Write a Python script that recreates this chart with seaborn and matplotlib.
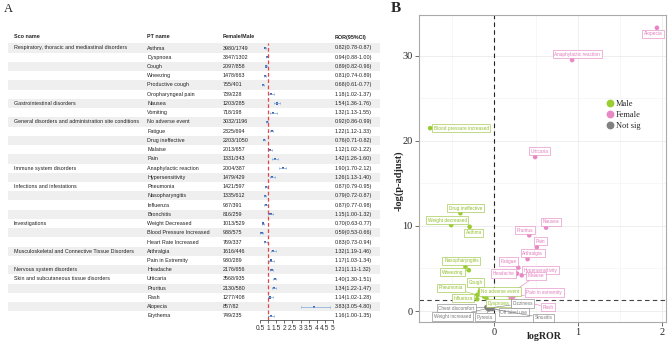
import numpy as np
import pandas as pd
import seaborn as sns
import matplotlib.pyplot as plt
from matplotlib.lines import Line2D

sns.set_theme(style="white")
plt.rcParams['font.family'] = ['Liberation Sans', 'DejaVu Sans']
SERIF = ['Liberation Serif', 'DejaVu Serif']

# ---------------- panel A data ----------------
soc_names = ['Respiratory, thoracic and mediastinal disorders', '', '', '', '', '',
             'Gastrointestinal disorders', '',
             'General disorders and administration site conditions', '', '', '', '',
             'Immune system disorders', '',
             'Infections and infestations', '', '', '',
             'Investigations', '', '',
             'Musculoskeletal and Connective Tissue Disorders', '',
             'Nervous system disorders',
             'Skin and subcutaneous tissue disorders', '', '', '', '']
pt_names = ['Asthma', 'Dyspnoea', 'Cough', 'Wheezing', 'Productive cough', 'Oropharyngeal pain',
            'Nausea', 'Vomiting',
            'No adverse event', 'Fatigue', 'Drug ineffective', 'Malaise', 'Pain',
            'Anaphylactic reaction', 'Hypersensitivity',
            'Pneumonia', 'Nasopharyngitis', 'Influenza', 'Bronchitis',
            'Weight Decreased', 'Blood Pressure Increased', 'Heart Rate Increased',
            'Arthralgia', 'Pain in Extremity',
            'Headache',
            'Urticaria', 'Pruritus', 'Rash', 'Alopecia', 'Erythema']
female_male = ['3980/1749', '3347/1302', '2097/858', '1478/663', '755/401', '739/228',
               '1203/285', '718/198',
               '3032/1196', '2325/694', '2203/1050', '2013/657', '1331/343',
               '2004/387', '1479/429',
               '1421/597', '1335/612', '937/391', '816/259',
               '1013/529', '938/575', '769/337',
               '1616/446', '930/289',
               '2176/656',
               '3568/935', '2130/580', '1277/408', '857/82', '749/235']
ror = [0.82, 0.94, 0.89, 0.81, 0.68, 1.18, 1.54, 1.32, 0.92, 1.22, 0.76, 1.12, 1.42, 1.90, 1.26,
       0.87, 0.79, 0.87, 1.15, 0.70, 0.59, 0.83, 1.32, 1.17, 1.21, 1.40, 1.34, 1.14, 3.83, 1.16]
ror_lo = [0.78, 0.88, 0.82, 0.74, 0.61, 1.02, 1.36, 1.13, 0.86, 1.12, 0.71, 1.02, 1.26, 1.70, 1.13,
          0.79, 0.72, 0.77, 1.00, 0.63, 0.53, 0.73, 1.19, 1.03, 1.11, 1.30, 1.22, 1.02, 3.05, 1.00]
ror_hi = [0.87, 1.00, 0.96, 0.89, 0.77, 1.37, 1.76, 1.55, 0.99, 1.33, 0.82, 1.22, 1.60, 2.12, 1.40,
          0.95, 0.87, 0.98, 1.32, 0.77, 0.66, 0.94, 1.46, 1.34, 1.32, 1.51, 1.47, 1.28, 4.80, 1.35]

# ---------------- panel B data ----------------
vol_terms = ['Alopecia', 'Anaphylactic reaction', 'Urticaria', 'Nausea', 'Pruritus', 'Pain',
             'Arthralgia', 'Fatigue', 'Headache', 'Hypersensitivity', 'Malaise',
             'Pain in extremity', 'Rash',
             'Blood pressure increased', 'Drug ineffective', 'Weight decreased', 'Asthma',
             'Nasopharyngitis', 'Wheezing', 'Cough', 'Pneumonia', 'No adverse event',
             'Influenza', 'Dyspnoea',
             'Chest discomfort', 'Weight increased', 'Pyrexia', 'Dizziness', 'Off label use',
             'Sinusitis']
vol_logror = [1.94, 0.93, 0.49, 0.62, 0.42, 0.51, 0.40, 0.29, 0.275, 0.33, 0.17, 0.23, 0.20,
              -0.76, -0.40, -0.51, -0.29, -0.34, -0.30, -0.17, -0.20, -0.12, -0.20, -0.09,
              -0.09, -0.08, -0.06, -0.03, -0.05, -0.02]
vol_nlogp = [33.3, 29.5, 18.1, 9.8, 8.9, 7.5, 6.1, 5.1, 4.4, 4.2, 1.9, 1.7, 1.5,
             21.5, 11.5, 10.1, 9.9, 5.2, 4.8, 2.3, 1.9, 1.7, 1.4, 1.5,
             0.45, 0.3, 0.2, 0.4, 0.35, 0.25]
vol_group = ['Female'] * 13 + ['Male'] * 11 + ['Not sig'] * 6

# label offsets (pixels, dx right / dy down) mimicking ggrepel placement
lab_off = [(-4, 6), (5, -6), (4, -6), (5, -6), (-4, -5), (4, -6), (5, -6), (-10, -6), (-14, 0),
           (19, -5), (28, -19), (31, -4), (37, 9),
           (31, 0), (5, -5), (-4, -5), (4, 6), (-4, -6), (-16, 2), (-4, -9), (-26, -7), (16, -5),
           (-14, -1), (12, 5),
           (-30, 1), (-35, 8), (-4, 8), (31, -4), (24, 4), (51, 9)]

pal = {'Male': '#9ACD32', 'Female': '#E889C6', 'Not sig': '#808080'}
txt_col = {'Male': '#93C02E', 'Female': '#E27CBD', 'Not sig': '#7a7a7a'}

W, H = 669, 343
fig = plt.figure(figsize=(W / 100, H / 100), dpi=100)

# ---------------- panel A: table + forest ----------------
bg = fig.add_axes([0, 0, 1, 1])
bg.set_xlim(0, W)
bg.set_ylim(H, 0)
bg.axis('off')

row_y0, row_h = 48, 9.24
fs = 3.9
n = len(pt_names)
for i in range(n):
    y = row_y0 + i * row_h
    if i % 2 == 0:
        bg.add_patch(plt.Rectangle((8, y - row_h / 2), 372, row_h, color='#efefef', lw=0, zorder=0))
    bg.text(14, y, soc_names[i], fontsize=fs, va='center', color='#222222')
    bg.text(147, y, pt_names[i], fontsize=fs, va='center', color='#222222')
    bg.text(223, y, female_male[i], fontsize=fs, va='center', color='#222222')
    bg.text(335, y, f'{ror[i]:.2f}({ror_lo[i]:.2f}-{ror_hi[i]:.2f})', fontsize=fs,
            va='center', color='#222222')
hy = 37
for x, t in [(14, 'Sco name'), (147, 'PT name'), (223, 'Female/Male'), (335, 'ROR(95%CI)')]:
    bg.text(x, hy, t, fontsize=fs, va='center', fontweight='bold', color='#222222')
bg.text(4, 9, 'A', fontsize=9, va='center', family=SERIF)
bg.text(391, 8, 'B', fontsize=11, va='center', family=SERIF, fontweight='bold')

fx0, fx1, ftop, fbot = 260, 333, 43, 320
axf = fig.add_axes([fx0 / W, (H - fbot) / H, (fx1 - fx0) / W, (fbot - ftop) / H])
axf.patch.set_alpha(0)
rows = np.arange(n)
axf.errorbar(ror, rows, xerr=[np.array(ror) - np.array(ror_lo), np.array(ror_hi) - np.array(ror)],
             fmt='none', ecolor='#7EA6D8', elinewidth=0.5, capsize=0.8, capthick=0.5)
sns.scatterplot(x=ror, y=rows, marker='s', s=2.5, color='#3D67B0', edgecolor='none', ax=axf,
                legend=False)
axf.axvline(1, color='#E8474A', ls=(0, (3, 2)), lw=0.9)
axf.set_xlim(0.5, 5)
axf.set_ylim((fbot - row_y0) / row_h, (ftop - row_y0) / row_h)
axf.set_xticks(np.arange(0.5, 5.01, 0.5))
axf.set_xticklabels(['0.5', '1', '1.5', '2', '2.5', '3', '3.5', '4', '4.5', '5'])
axf.tick_params(axis='x', labelsize=4.8, length=2.5, width=0.5, pad=1, colors='#333333',
                bottom=True)
axf.set_yticks([])
for s in ['top', 'left', 'right']:
    axf.spines[s].set_visible(False)
axf.spines['bottom'].set_linewidth(0.5)
axf.spines['bottom'].set_color('#333333')
axf.set_xlabel('')
axf.set_ylabel('')

# ---------------- panel B: volcano ----------------
vx0, vx1, vtop, vbot = 419, 666, 15, 322
axv = fig.add_axes([vx0 / W, (H - vbot) / H, (vx1 - vx0) / W, (vbot - vtop) / H])
df = pd.DataFrame({'term': vol_terms, 'logROR': vol_logror, 'nlogp': vol_nlogp,
                   'group': vol_group})
axv.set_xlim(-0.893, 2.048)
axv.set_ylim(-1.29, 34.8)
axv.set_xticks([0, 1, 2])
axv.set_yticks([0, 10, 20, 30])
axv.set_xticks([-0.5, 0.5, 1.5], minor=True)
axv.set_yticks([5, 15, 25], minor=True)
axv.grid(which='major', color='#ebebeb', lw=0.6)
axv.grid(which='minor', color='#f2f2f2', lw=0.4)
axv.set_axisbelow(True)
axv.axvline(0, color='#222222', ls=(0, (4, 3)), lw=0.8, zorder=1)
axv.axhline(-np.log10(0.05), color='#444444', ls=(0, (4, 3)), lw=0.8, zorder=1)
sns.scatterplot(data=df, x='logROR', y='nlogp', hue='group', palette=pal, s=11,
                edgecolor='none', ax=axv, legend=False, zorder=3)
for (t, x, y, g), (dx, dy) in zip(df[['term', 'logROR', 'nlogp', 'group']].values, lab_off):
    axv.annotate(t, (x, y), xytext=(dx, -dy), textcoords='offset pixels', fontsize=3.4,
                 color=txt_col[g], ha='center', va='center', zorder=4,
                 bbox=dict(boxstyle='square,pad=0.35', fc='white', ec=txt_col[g], lw=0.4),
                 arrowprops=dict(arrowstyle='-', color=txt_col[g], lw=0.4, shrinkA=0, shrinkB=1.5))
for s in axv.spines.values():
    s.set_color('#aaaaaa')
    s.set_linewidth(0.8)
axv.tick_params(axis='both', which='major', labelsize=7.5, length=3, width=0.6, color='#555555',
                pad=1.5, left=True, bottom=True)
for lab in axv.get_xticklabels() + axv.get_yticklabels():
    lab.set_family(SERIF)
axv.set_xlabel('logROR', family=SERIF, fontsize=7.2, fontweight='bold')
axv.set_ylabel('-log(p-adjust)', family=SERIF, fontsize=7.5, fontweight='bold')
axv.xaxis.set_label_coords(0.505, -0.033)
axv.yaxis.set_label_coords(-0.062, 0.46)

handles = [Line2D([], [], marker='o', ls='none', color=pal[k], markersize=4.6, label=k)
           for k in ['Male', 'Female', 'Not sig']]
axv.legend(handles=handles, loc='upper left', bbox_to_anchor=(0.74, 0.735), frameon=False,
           prop={'family': SERIF, 'size': 6}, handletextpad=0.1, labelspacing=0.35,
           borderaxespad=0, handlelength=1.2)

fig.savefig('out.png', dpi=100)
